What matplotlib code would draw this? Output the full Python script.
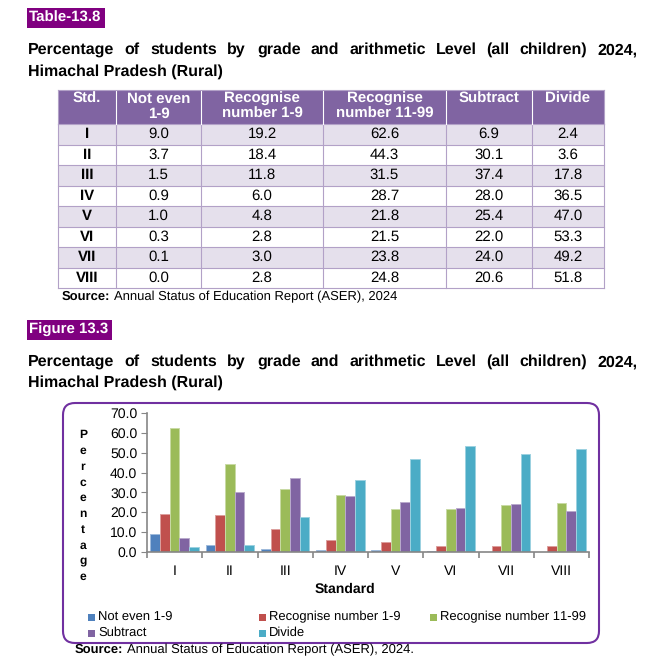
import matplotlib.pyplot as plt
import numpy as np
from matplotlib.patches import Rectangle, FancyBboxPatch
from matplotlib.ticker import FormatStrFormatter
from matplotlib.colors import to_rgb
from matplotlib.textpath import TextPath
from matplotlib.font_manager import FontProperties

plt.rcParams['font.family'] = ['Liberation Sans', 'DejaVu Sans']
plt.rcParams['text.hinting'] = 'none'
plt.rcParams['text.hinting_factor'] = 1

standards = ["I", "II", "III", "IV", "V", "VI", "VII", "VIII"]
not_even = [9.0, 3.7, 1.5, 0.9, 1.0, 0.3, 0.1, 0.0]
recog_1_9 = [19.2, 18.4, 11.8, 6.0, 4.8, 2.8, 3.0, 2.8]
recog_11_99 = [62.6, 44.3, 31.5, 28.7, 21.8, 21.5, 23.8, 24.8]
subtract = [6.9, 30.1, 37.4, 28.0, 25.4, 22.0, 24.0, 20.6]
divide = [2.4, 3.6, 17.8, 36.5, 47.0, 53.3, 49.2, 51.8]

header_labels = ["Std.", "Not even\n1-9", "Recognise\nnumber 1-9",
                 "Recognise\nnumber 11-99", "Subtract", "Divide"]
legend_labels = ["Not even 1-9", "Recognise number 1-9", "Recognise number 11-99",
                 "Subtract", "Divide"]
colors = ["#4F81BD", "#C0504D", "#9BBB59", "#8064A2", "#4BACC6"]
title1 = "Percentage of students by grade and arithmetic Level (all children) 2024,"
title2 = "Himachal Pradesh (Rural)"
source_table = "Annual Status of Education Report (ASER), 2024"
source_fig = "Annual Status of Education Report (ASER), 2024."

series = [not_even, recog_1_9, recog_11_99, subtract, divide]

fig = plt.figure(figsize=(6.66, 6.59), dpi=100)
page = fig.add_axes([0, 0, 1, 1])
page.set_xlim(0, 666)
page.set_ylim(659, 0)
page.axis('off')


def text_px(s, size, bold=False):
    # ink width of a string in pixels (dpi 100)
    prop = FontProperties(family='Liberation Sans', weight='bold' if bold else 'normal')
    tp = TextPath((0, 0), s, size=size, prop=prop)
    return tp.get_extents().x1 * 100 / 72


def justified(y, text, x0, x1, size):
    words = text.split()
    widths = [text_px(w, size, True) for w in words]
    gap = (x1 - x0 - sum(widths)) / (len(words) - 1)
    x = x0
    for word, w in zip(words, widths):
        page.text(x, y, word, fontsize=size, fontweight='bold', va='center', ha='left')
        x += w + gap


def source_line(x, y, rest, size):
    page.text(x, y, "Source:", fontweight='bold', fontsize=size, va='center')
    w = text_px("Source:", size, True) + 0.3 * size * 100 / 72
    page.text(x + w, y, rest, fontsize=size, va='center')


def tag(x, y, w, h, label):
    page.add_patch(Rectangle((x, y), w, h, fc='#800080', ec='none'))
    page.text(x + 2, y + h / 2, label, color='white', fontweight='bold',
              fontsize=10.5, va='center', ha='left')


def lighter(c, f=0.45):
    r, g, b = to_rgb(c)
    return (r + (1 - r) * f, g + (1 - g) * f, b + (1 - b) * f)


# ---- table section
tag(27, 8, 78, 20, "Table-13.8")
justified(50, title1, 28, 636, 11.5)
page.text(28, 72, title2, fontsize=11.5, fontweight='bold', va='center')

col_edges = [58, 116, 201, 323, 446, 532, 604]
head_top, head_bot = 90, 124
row_h = 20.5
grid_c = '#B2A1C7'
page.add_patch(Rectangle((col_edges[0], head_top), col_edges[-1] - col_edges[0],
                         head_bot - head_top, fc='#8064A2', ec='none'))
for i in range(len(standards)):
    y0 = head_bot + i * row_h
    if i % 2 == 0:
        page.add_patch(Rectangle((col_edges[0], y0), col_edges[-1] - col_edges[0],
                                 row_h, fc='#E5E0EC', ec='none'))
table_bot = head_bot + len(standards) * row_h
for i in range(len(standards) + 1):
    y = head_bot + i * row_h
    page.plot([col_edges[0], col_edges[-1]], [y, y], color=grid_c, lw=0.8)
for k, x in enumerate(col_edges):
    page.plot([x, x], [head_bot, table_bot], color=grid_c, lw=0.8)
    if 0 < k < len(col_edges) - 1:
        page.plot([x, x], [head_top, head_bot], color='white', lw=0.8)
page.plot([col_edges[0], col_edges[-1]], [head_top, head_top], color=grid_c, lw=0.8)
page.plot([col_edges[0]] * 2, [head_top, head_bot], color=grid_c, lw=0.8)
page.plot([col_edges[-1]] * 2, [head_top, head_bot], color=grid_c, lw=0.8)

centers = [(a + b) / 2 for a, b in zip(col_edges[:-1], col_edges[1:])]
for cx, lab in zip(centers, header_labels):
    page.text(cx, head_top + 2, lab, color='white', fontweight='bold', fontsize=10.5,
              ha='center', va='top', linespacing=1.05)
for i, std in enumerate(standards):
    cy = head_bot + (i + 0.5) * row_h
    page.text(centers[0], cy, std, fontweight='bold', fontsize=10.5, ha='center', va='center')
    for cx, vals in zip(centers[1:], series):
        page.text(cx, cy, f"{vals[i]:.1f}", fontsize=10.5, ha='center', va='center')
source_line(62, 297, source_table, 9.5)

# ---- figure section
tag(27, 320, 85, 20, "Figure 13.3")
justified(362, title1, 28, 636, 11.5)
page.text(28, 383, title2, fontsize=11.5, fontweight='bold', va='center')

page.add_patch(FancyBboxPatch((63, 403), 536, 240,
                              boxstyle="round,pad=0,rounding_size=12",
                              ec='#7030A0', fc='white', lw=1.5))

ax = fig.add_axes([147 / 666, 1 - 552 / 659, 442 / 666, 139 / 659])
ax.patch.set_visible(False)
x = np.arange(len(standards))
w = 0.176
for j, (vals, c) in enumerate(zip(series, colors)):
    ax.bar(x + (j - 2) * w, vals, w, color=c, ec=lighter(c), lw=0.7)
ax.set_xlim(-0.5, len(standards) - 0.5)
ax.set_ylim(0, 70)
ax.set_yticks(np.arange(0, 71, 10))
ax.yaxis.set_major_formatter(FormatStrFormatter('%.1f'))
for s in ['top', 'right']:
    ax.spines[s].set_visible(False)
for s in ['left', 'bottom']:
    ax.spines[s].set_color('#868686')
    ax.spines[s].set_linewidth(1.2)
ax.tick_params(axis='y', direction='out', length=4, color='#868686', labelsize=10, pad=3)
ax.set_xticks(x)
ax.set_xticklabels(standards)
ax.tick_params(axis='x', length=0, pad=9, labelsize=10)
ax.set_xticks(np.arange(-0.5, len(standards), 1), minor=True)
ax.tick_params(axis='x', which='minor', length=4, color='#868686', direction='out', width=1.2)

for k, ch in enumerate("Percentage"):
    page.text(83, 435 + k * 15.8, ch, fontweight='bold', fontsize=8.5, ha='center', va='center')
page.text(345, 589, "Standard", fontweight='bold', fontsize=10, ha='center', va='center')

leg_x = [88, 259, 430]
leg_y = [617, 633]
for k, (lab, c) in enumerate(zip(legend_labels, colors)):
    lx = leg_x[k % 3]
    ly = leg_y[k // 3]
    page.add_patch(Rectangle((lx, ly - 3.5), 7, 7, fc=c, ec='none'))
    page.text(lx + 10, ly, lab, fontsize=9.7, va='center', ha='left')

source_line(75, 650, source_fig, 9.5)

fig.savefig("out.png", dpi=100)
